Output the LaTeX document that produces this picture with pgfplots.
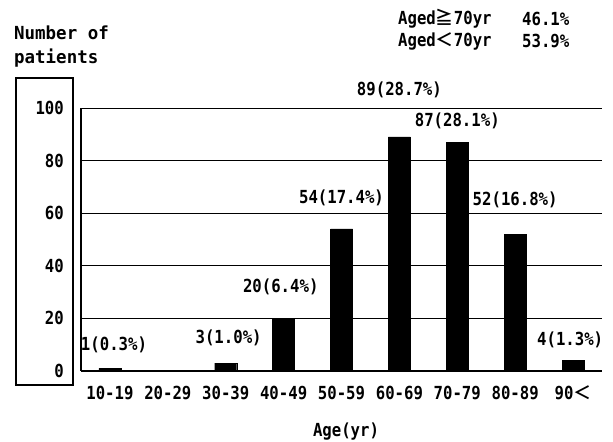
\documentclass[border=0pt]{standalone}
\usepackage{fontspec}
\setmainfont{DejaVu Sans Mono}[FakeStretch=0.87]
\newfontfamily\titlefont{DejaVu Sans Mono}[FakeStretch=0.97]
\newfontfamily\jp{Noto Sans CJK JP}[BoldFont={Noto Sans CJK JP Bold}]
\usepackage{pgfplots}
\pgfplotsset{compat=1.18}

\begin{document}
\fontsize{18bp}{21bp}\selectfont\bfseries
\begin{tikzpicture}[x=1bp,y=1bp]
\useasboundingbox (-81,-71) rectangle (532,371);
\begin{axis}[
    at={(0,0)}, anchor=south west,
    scale only axis,
    width=521bp, height=263bp,
    ybar, bar width=22bp,
    xmin=-0.5, xmax=8.5,
    ymin=0, ymax=100,
    axis x line=bottom, axis y line=left,
    axis line style={-, line width=1.2bp},
    xtick=data,
    xticklabels={10-19,20-29,30-39,40-49,50-59,60-69,70-79,80-89,{90{\jp\bfseries ＜}}},
    ytick={0,20,40,60,80,100},
    major tick length=0pt,
    ymajorgrids,
    grid style={black, line width=0.9bp},
    xticklabel style={anchor=base, inner sep=0pt, yshift=-29bp},
    yticklabel style={anchor=east, inner sep=0pt, xshift=-17bp},
    clip=false,
    /pgf/number format/assume math mode=true,
    tick label style={font=\fontsize{18bp}{21bp}\selectfont\bfseries},
]
\addplot[fill=black, draw=black] coordinates {
    (0,1) (1,0) (2,3) (3,20) (4,54) (5,89) (6,87) (7,52) (8,4)
};
\node at (axis cs:0.07,10) {1(0.3\%)};
\node at (axis cs:2.05,12.5) {3(1.0\%)};
\node at (axis cs:2.95,32) {20(6.4\%)};
\node at (axis cs:4,66) {54(17.4\%)};
\node at (axis cs:5,107) {89(28.7\%)};
\node at (axis cs:6,95) {87(28.1\%)};
\node at (axis cs:7,65) {52(16.8\%)};
\node at (axis cs:7.95,12) {4(1.3\%)};
\end{axis}
% box round the y tick labels
\draw[line width=1.2bp] (-65,-14) rectangle (-8,293);
\node[anchor=west, inner sep=0pt, font=\titlefont\fontsize{18bp}{21bp}\selectfont\bfseries] at (-67,338) {Number of};
\node[anchor=west, inner sep=0pt, font=\titlefont\fontsize{18bp}{21bp}\selectfont\bfseries] at (-67,313) {patients};
\node[anchor=west, inner sep=0pt] at (317,352) {Aged{\jp\bfseries ≧}70yr};
\node[anchor=west, inner sep=0pt] at (441,352) {46.1\%};
\node[anchor=west, inner sep=0pt] at (317,330) {Aged{\jp\bfseries ＜}70yr};
\node[anchor=west, inner sep=0pt] at (441,330) {53.9\%};
\node at (265,-61) {Age(yr)};
\end{tikzpicture}
\end{document}
